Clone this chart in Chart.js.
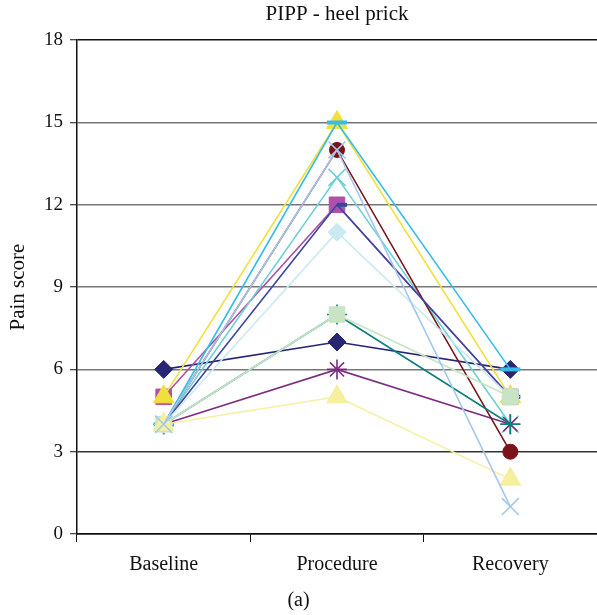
<!DOCTYPE html>
<html>
<head>
<meta charset="utf-8">
<script src="https://cdn.jsdelivr.net/npm/chart.js@4"></script>
<style>
html,body{margin:0;padding:0;background:#fff;}
#wrap{width:597px;height:615px;}
</style>
</head>
<body>
<div id="wrap"><canvas id="c" width="597" height="615"></canvas></div>
<script>
const categories = ['Baseline', 'Procedure', 'Recovery'];
const yTicks = [0, 3, 6, 9, 12, 15, 18];

// One array per infant (baseline, procedure, recovery)
const s1  = [6, 7, 6];
const s2  = [5, 12, 5];
const s3  = [5, 15, 5];
const s4  = [4, 13, 4];
const s5  = [4, 6, 4];
const s6  = [4, 14, 3];
const s7  = [4, 8, 4];
const s8  = [4, 12, 5];
const s9  = [4, 15, 6];
const s10 = [4, 11, 5];
const s11 = [4, 8, 5];
const s12 = [4, 5, 2];
const s13 = [4, 14, 1];

const seriesValues = [s1, s2, s3, s4, s5, s6, s7, s8, s9, s10, s11, s12, s13];
const seriesColors = ['#262673', '#b050a8', '#f0e03c', '#6fd0d6', '#7b2d7f', '#7a1418', '#0f7f7a',
                      '#3a48a0', '#35bde9', '#cbe9f0', '#c8e4c4', '#f4f0a0', '#a4c8ec'];
const seriesMarkers = ['rectRot', 'rect', 'triangle', 'crossRot', 'star', 'circle', 'cross',
                       'dash', 'line', 'rectRot', 'rect', 'triangle', 'crossRot'];
const markerSizes = [9, 11, 12, 12, 10, 7.5, 10, 10, 10, 9, 11, 12, 12];

const n = seriesValues.length;
const datasets = seriesValues.map((vals, i) => {
  const mk = seriesMarkers[i];
  const strokeOnly = ['crossRot', 'star', 'cross', 'dash', 'line'].includes(mk);
  return {
    label: 'Infant ' + (i + 1),
    data: vals,
    borderColor: seriesColors[i],
    backgroundColor: seriesColors[i],
    borderWidth: 1.6,
    pointStyle: mk,
    pointRadius: markerSizes[i],
    pointHoverRadius: markerSizes[i],
    pointBackgroundColor: seriesColors[i],
    pointBorderColor: seriesColors[i],
    pointBorderWidth: (mk === 'dash' || mk === 'line') ? 4 : (strokeOnly ? 1.6 : 1),
    tension: 0,
    fill: false,
    clip: false,
    order: n - i
  };
});

const SERIF = "'Liberation Serif', 'DejaVu Serif', serif";

new Chart(document.getElementById('c'), {
  type: 'line',
  data: { labels: categories, datasets: datasets },
  options: {
    responsive: false,
    animation: false,
    events: [],
    layout: { autoPadding: false, padding: { left: 0, right: 0, top: 0, bottom: 0 } },
    plugins: {
      legend: { display: false },
      tooltip: { enabled: false },
      title: {
        display: true,
        text: 'PIPP - heel prick',
        fullSize: false,
        color: '#111',
        font: { family: SERIF, size: 21, weight: 'normal', lineHeight: 1.2 },
        padding: { top: 2, bottom: 13 }
      },
      subtitle: {
        display: true,
        position: 'bottom',
        text: '(a)',
        color: '#111',
        font: { family: SERIF, size: 20, weight: 'normal', lineHeight: 1.2 },
        padding: { top: 1, bottom: 2 }
      }
    },
    scales: {
      x: {
        type: 'category',
        offset: true,
        grid: {
          offset: true,
          drawOnChartArea: false,
          drawTicks: true,
          tickLength: 8,
          tickColor: '#111',
          tickWidth: 1
        },
        border: { color: '#111', width: 1.5 },
        ticks: {
          color: '#111',
          font: { family: SERIF, size: 20, lineHeight: 1.2 },
          padding: 11
        }
      },
      y: {
        min: 0,
        max: 18,
        afterFit: (scale) => { scale.width = 77; },
        afterBuildTicks: (scale) => { scale.ticks = yTicks.map(v => ({ value: v })); },
        title: {
          display: true,
          text: 'Pain score',
          color: '#111',
          font: { family: SERIF, size: 21 },
          padding: { top: 6, bottom: 0 }
        },
        grid: {
          color: (ctx) => {
            const v = ctx.tick ? ctx.tick.value : null;
            if (v === 18 || v === 0) return '#111';
            if (v === 3) return '#333';
            return '#777';
          },
          lineWidth: 1.5,
          drawTicks: true,
          tickLength: 7,
          tickColor: '#111',
          tickWidth: 1
        },
        border: { color: '#111', width: 1.5 },
        ticks: {
          color: '#111',
          font: { family: SERIF, size: 19 },
          padding: 7
        }
      }
    }
  }
});
</script>
</body>
</html>
